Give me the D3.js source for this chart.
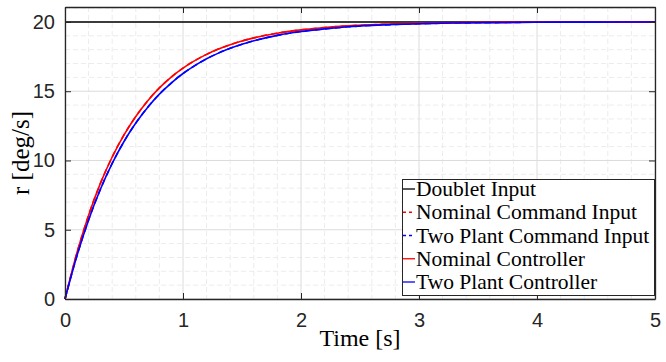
<!DOCTYPE html>
<html>
<head>
<meta charset="utf-8">
<script src="https://cdn.jsdelivr.net/npm/d3@7/dist/d3.min.js"></script>
<style>
  html, body { margin: 0; padding: 0; background: #fff; }
  svg { display: block; }
</style>
</head>
<body>
<svg id="chart" width="666" height="362"></svg>
<script>
// Yaw-rate response r(t) to a 20 deg/s command
const time = [0, 0.1, 0.2, 0.3, 0.4, 0.5, 0.6, 0.7, 0.8, 0.9, 1.0, 1.1, 1.2, 1.3, 1.4, 1.5,
  1.6, 1.7, 1.8, 1.9, 2.0, 2.2, 2.4, 2.6, 2.8, 3.0, 3.25, 3.5, 4.0, 4.5, 5.0];

const nominalController = [0, 3.30, 6.05, 8.35, 10.25, 11.85, 13.18, 14.30, 15.24, 16.02,
  16.67, 17.21, 17.66, 18.04, 18.36, 18.63, 18.85, 19.04, 19.19, 19.32, 19.43, 19.60,
  19.72, 19.80, 19.86, 19.90, 19.94, 19.96, 19.98, 19.99, 20.0];

const twoPlantController = [0, 3.09, 5.71, 7.92, 9.79, 11.37, 12.70, 13.83, 14.79, 15.59,
  16.28, 16.85, 17.34, 17.75, 18.10, 18.39, 18.64, 18.85, 19.03, 19.18, 19.31, 19.50,
  19.65, 19.75, 19.82, 19.87, 19.92, 19.94, 19.98, 19.99, 20.0];

// reference-model outputs track the closed-loop responses
const nominalCommand = nominalController.slice();
const twoPlantCommand = twoPlantController.slice();

const doubletTime = [0, 5];
const doubletInput = [20, 20];

const xTicks = [0, 1, 2, 3, 4, 5];
const yTicks = [0, 5, 10, 15, 20];

const legendLabels = ["Doublet Input", "Nominal Command Input", "Two Plant Command Input",
  "Nominal Controller", "Two Plant Controller"];

const svg = d3.select("#chart");
const plotLeft = 65, plotRight = 655, plotTop = 7, plotBottom = 299;

const x = d3.scaleLinear().domain([0, 5]).range([plotLeft, plotRight]);
const y = d3.scaleLinear().domain([0, 21.08]).range([plotBottom, plotTop]);

// grid: minor then major
const g = svg.append("g");
const xMinor = d3.range(0, 5.0001, 0.2).filter(v => Math.abs(v - Math.round(v)) > 1e-6);
const yMinor = d3.range(0, 21.001, 1).filter(v => v % 5 !== 0);
g.selectAll(".xm").data(xMinor).join("line")
  .attr("x1", d => x(d)).attr("x2", d => x(d)).attr("y1", plotTop).attr("y2", plotBottom)
  .attr("stroke", "#ececec").attr("stroke-width", 1).attr("stroke-dasharray", "5,3");
g.selectAll(".ym").data(yMinor).join("line")
  .attr("x1", plotLeft).attr("x2", plotRight).attr("y1", d => y(d)).attr("y2", d => y(d))
  .attr("stroke", "#ececec").attr("stroke-width", 1).attr("stroke-dasharray", "5,3");
g.selectAll(".xg").data(xTicks).join("line")
  .attr("x1", d => x(d)).attr("x2", d => x(d)).attr("y1", plotTop).attr("y2", plotBottom)
  .attr("stroke", "#dcdcdc").attr("stroke-width", 1);
g.selectAll(".yg").data(yTicks).join("line")
  .attr("x1", plotLeft).attr("x2", plotRight).attr("y1", d => y(d)).attr("y2", d => y(d))
  .attr("stroke", "#dcdcdc").attr("stroke-width", 1);

// series
const smooth = d3.line().curve(d3.curveMonotoneX).x(d => x(d[0])).y(d => y(d[1]));
const straight = d3.line().x(d => x(d[0])).y(d => y(d[1]));
function series(tv, yv) { return tv.map((t, i) => [t, yv[i]]); }

const plot = svg.append("g");
plot.append("path").datum(series(doubletTime, doubletInput)).attr("d", straight)
  .attr("fill", "none").attr("stroke", "#000").attr("stroke-width", 1.5);
plot.append("path").datum(series(time, nominalCommand)).attr("d", smooth)
  .attr("fill", "none").attr("stroke", "#ff0000").attr("stroke-width", 1.6).attr("stroke-dasharray", "6,4");
plot.append("path").datum(series(time, twoPlantCommand)).attr("d", smooth)
  .attr("fill", "none").attr("stroke", "#0000ff").attr("stroke-width", 1.6).attr("stroke-dasharray", "6,4");
plot.append("path").datum(series(time, nominalController)).attr("d", smooth)
  .attr("fill", "none").attr("stroke", "#ff0000").attr("stroke-width", 1.6);
plot.append("path").datum(series(time, twoPlantController)).attr("d", smooth)
  .attr("fill", "none").attr("stroke", "#0000ff").attr("stroke-width", 1.6);

// axes box and ticks
const axisColor = "#262626";
const tickLen = 6;
const xAxis = svg.append("g").attr("transform", `translate(0,${plotBottom})`)
  .call(d3.axisBottom(x).tickValues(xTicks).tickSizeInner(-tickLen).tickSizeOuter(0).tickPadding(14).tickFormat(d3.format("d")));
const xAxisTop = svg.append("g").attr("transform", `translate(0,${plotTop})`)
  .call(d3.axisTop(x).tickValues(xTicks).tickSizeInner(-tickLen).tickSizeOuter(0).tickFormat(""));
const yAxis = svg.append("g").attr("transform", `translate(${plotLeft},0)`)
  .call(d3.axisLeft(y).tickValues(yTicks).tickSizeInner(-tickLen).tickSizeOuter(0).tickPadding(10).tickFormat(d3.format("d")));
const yAxisRight = svg.append("g").attr("transform", `translate(${plotRight},0)`)
  .call(d3.axisRight(y).tickValues(yTicks).tickSizeInner(-tickLen).tickSizeOuter(0).tickFormat(""));

[xAxis, xAxisTop, yAxis, yAxisRight].forEach(a => {
  a.select(".domain").attr("stroke", axisColor).attr("stroke-width", 1.3);
  a.selectAll(".tick line").attr("stroke", axisColor).attr("stroke-width", 1);
  a.selectAll("text").attr("fill", "#262626")
    .style("font-family", "'Liberation Sans', Arial, sans-serif").style("font-size", "20px");
});

// axis labels
svg.append("text").attr("x", (plotLeft + plotRight) / 2).attr("y", 346)
  .attr("text-anchor", "middle")
  .style("font-family", "'Liberation Serif', 'Times New Roman', serif").style("font-size", "24px")
  .attr("fill", "#000").text("Time [s]");
svg.append("text").attr("transform", `translate(29,${(plotTop + plotBottom) / 2}) rotate(-90)`)
  .attr("text-anchor", "middle")
  .style("font-family", "'Liberation Serif', 'Times New Roman', serif").style("font-size", "25px")
  .attr("fill", "#000").text("r [deg/s]");

// legend
const legendStyles = [
  { color: "#000", dash: null },
  { color: "#ff0000", dash: "3,3" },
  { color: "#0000ff", dash: "3,3" },
  { color: "#ff0000", dash: null },
  { color: "#0000ff", dash: null }
];
const lg = svg.append("g");
lg.append("rect").attr("x", 402.5).attr("y", 179.5).attr("width", 252).attr("height", 116)
  .attr("fill", "#fff").attr("stroke", "#262626").attr("stroke-width", 1);
const rowY = d3.scalePoint().domain(legendLabels).range([189, 282]);
const rows = lg.selectAll(".row").data(legendLabels).join("g")
  .attr("transform", d => `translate(0,${rowY(d)})`);
rows.append("line").attr("x1", 403).attr("x2", 415).attr("y1", 0).attr("y2", 0)
  .attr("stroke", (d, i) => legendStyles[i].color).attr("stroke-width", 1.3)
  .attr("stroke-dasharray", (d, i) => legendStyles[i].dash);
rows.append("text").attr("x", 416).attr("y", 0).attr("dy", "0.33em")
  .style("font-family", "'Liberation Serif', 'Times New Roman', serif").style("font-size", "21.5px")
  .attr("fill", "#000").text(d => d);
</script>
</body>
</html>
